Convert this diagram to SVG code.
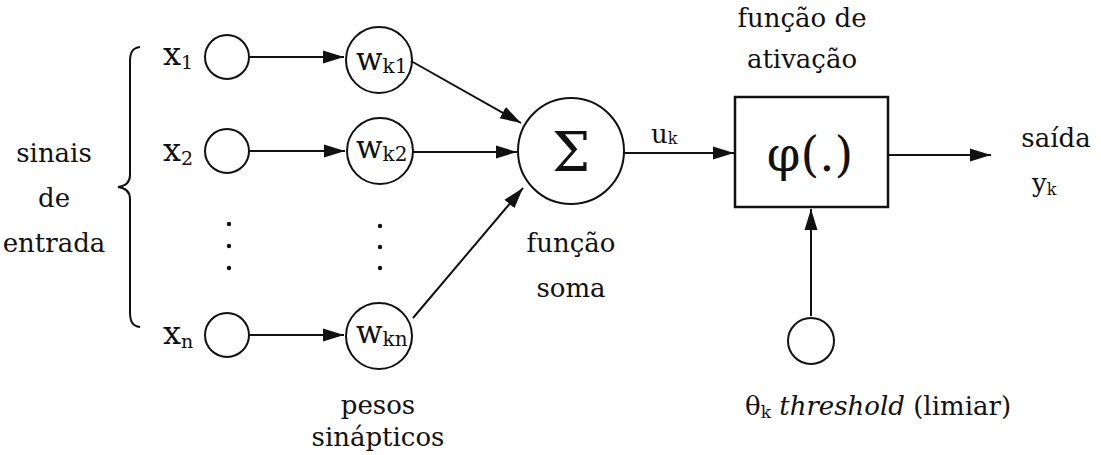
<svg xmlns="http://www.w3.org/2000/svg" width="1101" height="455" viewBox="0 0 1101 455">
  <style>
    text { font-family: "DejaVu Serif", "Liberation Serif", serif; fill: #111; }
    .t { font-size: 26px; }
    .m { text-anchor: middle; }
    .var { font-size: 32px; }
    .sub { font-size: 19px; }
    .wv { font-size: 31px; }
    .wsub { font-size: 20px; }
    .node { fill: #fff; stroke: #111; stroke-width: 2; }
    .conn { stroke: #111; stroke-width: 2; fill: none; marker-end: url(#ah); }
    .dot { fill: #111; }
  </style>
  <defs>
    <marker id="ah" markerUnits="userSpaceOnUse" markerWidth="22" markerHeight="14" refX="21" refY="7" orient="auto">
      <path d="M0,0.5 L21,7 L0,13.5 z" fill="#111"/>
    </marker>
  </defs>
  <rect width="1101" height="455" fill="#fff"/>

  <g id="label-entrada">
    <text class="t m" x="54" y="162" font-size="24">sinais</text>
    <text class="t m" x="54" y="207" font-size="24">de</text>
    <text class="t m" x="54" y="252" font-size="24">entrada</text>
  </g>

  <g id="brace">
    <path d="M140,47 C132,48 130,53 130,62 L130,175 C130,182 126,186 118,187 C126,188 130,192 130,199 L130,312 C130,321 132,326 140,327" fill="none" stroke="#111" stroke-width="2"/>
  </g>

  <g id="x1">
    <text class="var" x="163" y="65">x<tspan class="sub" dy="4">1</tspan></text>
    <circle class="node" cx="227" cy="57" r="22"/>
  </g>
  <g id="x2">
    <text class="var" x="163" y="161">x<tspan class="sub" dy="4">2</tspan></text>
    <circle class="node" cx="227" cy="151" r="22"/>
  </g>
  <g id="xn">
    <text class="var" x="163" y="344">x<tspan class="sub" dy="4">n</tspan></text>
    <circle class="node" cx="227" cy="335" r="22"/>
  </g>
  <g id="dots-x">
    <circle class="dot" cx="229" cy="224" r="2.2"/>
    <circle class="dot" cx="229" cy="246" r="2.2"/>
    <circle class="dot" cx="229" cy="268" r="2.2"/>
  </g>

  <g id="wk1">
    <circle class="node" cx="379" cy="60" r="33"/>
    <text class="wv" x="356" y="70">w<tspan class="wsub" dy="3">k1</tspan></text>
  </g>
  <g id="wk2">
    <circle class="node" cx="380" cy="151" r="33"/>
    <text class="wv" x="356" y="158">w<tspan class="wsub" dy="3">k2</tspan></text>
  </g>
  <g id="wkn">
    <circle class="node" cx="379" cy="336" r="33"/>
    <text class="wv" x="356" y="343">w<tspan class="wsub" dy="3">kn</tspan></text>
  </g>
  <g id="dots-w">
    <circle class="dot" cx="380" cy="226" r="2.2"/>
    <circle class="dot" cx="380" cy="247" r="2.2"/>
    <circle class="dot" cx="380" cy="268" r="2.2"/>
  </g>
  <g id="label-pesos">
    <text class="t m" x="378" y="414">pesos</text>
    <text class="t m" x="378" y="446">sinápticos</text>
  </g>

  <g id="soma">
    <circle class="node" cx="571" cy="151" r="53"/>
    <text class="m" x="571" y="171" font-size="54">Σ</text>
    <text class="t m" x="571" y="252">função</text>
    <text class="t m" x="571" y="297">soma</text>
  </g>

  <g id="ativacao">
    <text class="t m" x="802" y="27">função de</text>
    <text class="t m" x="802" y="68">ativação</text>
    <rect x="735" y="97" width="153" height="110" fill="#fff" stroke="#111" stroke-width="2.5"/>
    <text class="m" x="810" y="171" font-size="48">φ(.)</text>
  </g>

  <g id="uk-label">
    <text class="t" x="651" y="143" font-size="24">u<tspan font-size="16" dy="1">k</tspan></text>
  </g>

  <g id="saida">
    <text class="t m" x="1056" y="147">saída</text>
    <text class="t" x="1032" y="192">y<tspan font-size="16" dy="3">k</tspan></text>
  </g>

  <g id="threshold">
    <circle class="node" cx="811" cy="341" r="23"/>
    <text class="t" x="745" y="415" font-size="27">θ<tspan font-size="17" dy="3">k</tspan><tspan dy="-3"> </tspan><tspan font-style="italic">threshold</tspan> (limiar)</text>
  </g>

  <g id="connectors">
    <line class="conn" x1="249" y1="57" x2="344" y2="57"/>
    <line class="conn" x1="249" y1="151" x2="345" y2="151"/>
    <line class="conn" x1="249" y1="335" x2="344" y2="335"/>
    <line class="conn" x1="411" y1="61" x2="521" y2="123"/>
    <line class="conn" x1="413" y1="152" x2="517" y2="152"/>
    <line class="conn" x1="413" y1="318" x2="523" y2="188"/>
    <line class="conn" x1="624" y1="153" x2="734" y2="153"/>
    <line class="conn" x1="888" y1="155" x2="991" y2="155"/>
    <line class="conn" x1="811" y1="316" x2="811" y2="209"/>
  </g>
</svg>
